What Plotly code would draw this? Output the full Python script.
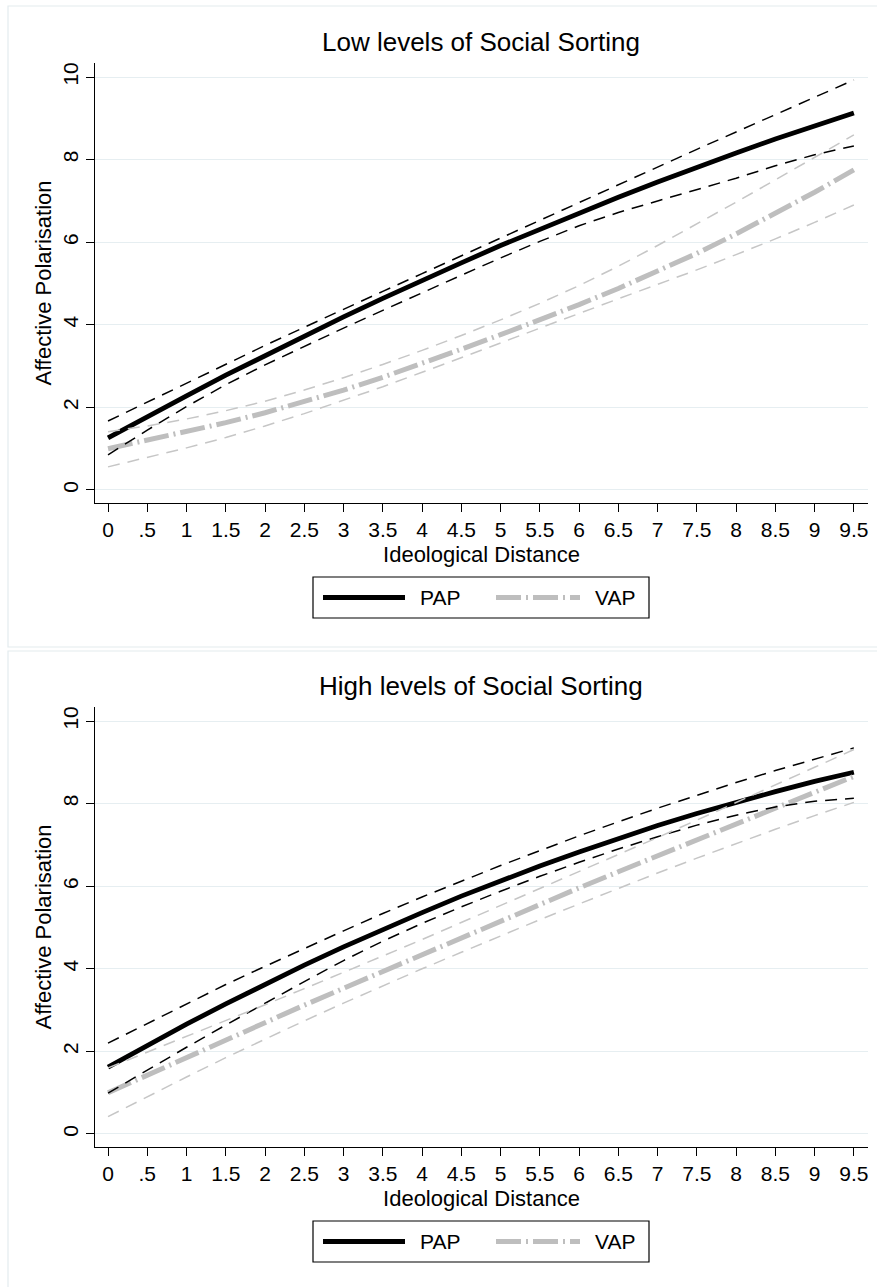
import plotly.graph_objects as go

# ---------------- data ----------------
x_vals = [0, 0.5, 1, 1.5, 2, 2.5, 3, 3.5, 4, 4.5, 5, 5.5, 6, 6.5, 7, 7.5, 8, 8.5, 9, 9.5]
x_tick_text = ["0", ".5", "1", "1.5", "2", "2.5", "3", "3.5", "4", "4.5", "5",
               "5.5", "6", "6.5", "7", "7.5", "8", "8.5", "9", "9.5"]
y_tick_vals = [0, 2, 4, 6, 8, 10]

panel_titles = ["Low levels of Social Sorting", "High levels of Social Sorting"]
series_names = ["PAP", "VAP"]
x_title = "Ideological Distance"
y_title = "Affective Polarisation"

# Low levels of social sorting
pap_low = [1.26, 1.78, 2.28, 2.78, 3.26, 3.73, 4.19, 4.64, 5.08, 5.50,
           5.92, 6.32, 6.71, 7.09, 7.46, 7.82, 8.16, 8.50, 8.82, 9.13]
pap_low_hi = [1.67, 2.13, 2.59, 3.05, 3.50, 3.94, 4.38, 4.81, 5.24, 5.67,
              6.10, 6.53, 6.97, 7.40, 7.82, 8.25, 8.67, 9.09, 9.51, 9.93]
pap_low_lo = [0.85, 1.45, 2.02, 2.55, 3.03, 3.48, 3.92, 4.35, 4.78, 5.20,
              5.62, 6.02, 6.40, 6.72, 7.00, 7.28, 7.55, 7.85, 8.12, 8.33]
vap_low = [1.00, 1.20, 1.41, 1.63, 1.87, 2.13, 2.42, 2.73, 3.06, 3.41,
           3.76, 4.12, 4.49, 4.88, 5.29, 5.73, 6.20, 6.69, 7.21, 7.75]
vap_low_hi = [1.41, 1.55, 1.72, 1.92, 2.15, 2.42, 2.72, 3.04, 3.38, 3.74,
              4.12, 4.52, 4.95, 5.42, 5.92, 6.44, 6.97, 7.51, 8.05, 8.60]
vap_low_lo = [0.56, 0.79, 1.02, 1.27, 1.55, 1.85, 2.17, 2.50, 2.85, 3.20,
              3.56, 3.92, 4.28, 4.63, 4.98, 5.33, 5.70, 6.08, 6.48, 6.90]

# High levels of social sorting
pap_high = [1.62, 2.15, 2.66, 3.15, 3.63, 4.09, 4.53, 4.96, 5.36, 5.76,
            6.13, 6.49, 6.83, 7.16, 7.47, 7.76, 8.04, 8.29, 8.54, 8.76]
pap_high_hi = [2.20, 2.68, 3.16, 3.62, 4.06, 4.50, 4.92, 5.34, 5.74, 6.12,
               6.50, 6.86, 7.22, 7.56, 7.89, 8.20, 8.51, 8.80, 9.08, 9.35]
pap_high_lo = [0.99, 1.55, 2.10, 2.64, 3.17, 3.69, 4.20, 4.67, 5.10, 5.50,
               5.88, 6.24, 6.58, 6.90, 7.20, 7.48, 7.72, 7.92, 8.06, 8.13]
vap_high = [1.00, 1.43, 1.86, 2.28, 2.70, 3.12, 3.53, 3.94, 4.35, 4.76,
            5.16, 5.56, 5.96, 6.35, 6.74, 7.13, 7.51, 7.90, 8.28, 8.66]
vap_high_hi = [1.60, 1.98, 2.36, 2.74, 3.13, 3.52, 3.91, 4.31, 4.71, 5.12,
               5.53, 5.94, 6.35, 6.77, 7.18, 7.60, 8.02, 8.45, 8.88, 9.31]
vap_high_lo = [0.42, 0.91, 1.38, 1.85, 2.30, 2.74, 3.17, 3.59, 4.00, 4.40,
               4.80, 5.19, 5.57, 5.95, 6.32, 6.68, 7.03, 7.38, 7.71, 8.03]

# ---------------- styling ----------------
W, H = 877, 1287
FONT = "Liberation Sans, Arial, Helvetica, sans-serif"
BLACK = "#000000"
GRAY_MAIN = "#BEBEBE"
GRAY_CI = "#C6C6C6"
GRID = "#E6EEF1"
FRAME = "#E3EBEE"
VAP_DASH = "25px,5px,2px,5px"
CI_DASH = "12px,8px"


def fx(p):
    return p / W


def fy(p):
    return 1 - p / H


fig = go.Figure()

panels = [
    (pap_low, pap_low_hi, pap_low_lo, vap_low, vap_low_hi, vap_low_lo),
    (pap_high, pap_high_hi, pap_high_lo, vap_high, vap_high_hi, vap_high_lo),
]

for i, (pm, ph, pl, vm, vh, vl) in enumerate(panels):
    xa = "x" if i == 0 else "x2"
    ya = "y" if i == 0 else "y2"
    fig.add_trace(go.Scatter(x=x_vals, y=pm, mode="lines", name=series_names[0],
                             line=dict(color=BLACK, width=4.8), xaxis=xa, yaxis=ya,
                             showlegend=False))
    fig.add_trace(go.Scatter(x=x_vals, y=vm, mode="lines", name=series_names[1],
                             line=dict(color=GRAY_MAIN, width=5, dash=VAP_DASH),
                             xaxis=xa, yaxis=ya, showlegend=False))
    for ys in (ph, pl):
        fig.add_trace(go.Scatter(x=x_vals, y=ys, mode="lines", name=series_names[0] + " 95% CI",
                                 line=dict(color=BLACK, width=1.5, dash=CI_DASH),
                                 xaxis=xa, yaxis=ya, showlegend=False))
    for ys in (vh, vl):
        fig.add_trace(go.Scatter(x=x_vals, y=ys, mode="lines", name=series_names[1] + " 95% CI",
                                 line=dict(color=GRAY_CI, width=1.5, dash=CI_DASH),
                                 xaxis=xa, yaxis=ya, showlegend=False))

xaxis_common = dict(
    range=[-0.166, 9.68], tickmode="array", tickvals=x_vals, ticktext=x_tick_text,
    ticks="outside", ticklen=8, tickwidth=1.2, tickcolor=BLACK,
    showline=True, linecolor=BLACK, linewidth=1.2, showgrid=False, zeroline=False,
    tickfont=dict(family=FONT, size=21, color=BLACK),
    title=dict(text=x_title, font=dict(family=FONT, size=22, color=BLACK), standoff=6),
)
yaxis_common = dict(
    range=[-0.315, 10.34], tickmode="array", tickvals=y_tick_vals, tickangle=-90,
    ticks="outside", ticklen=8, tickwidth=1.2, tickcolor=BLACK,
    showline=True, linecolor=BLACK, linewidth=1.2,
    showgrid=True, gridcolor=GRID, gridwidth=1.3, zeroline=False,
    tickfont=dict(family=FONT, size=21, color=BLACK),
    title=dict(text=y_title, font=dict(family=FONT, size=22, color=BLACK), standoff=0),
)

x_dom = [fx(95), fx(868)]
fig.update_layout(
    xaxis=dict(domain=x_dom, anchor="y", **xaxis_common),
    yaxis=dict(domain=[fy(503), fy(63)], anchor="x", **yaxis_common),
    xaxis2=dict(domain=x_dom, anchor="y2", **xaxis_common),
    yaxis2=dict(domain=[fy(1147), fy(707)], anchor="x2", **yaxis_common),
)

shapes = []
annotations = []
offsets = [0, 644]
for i, off in enumerate(offsets):
    # graph region frame
    if i == 0:
        shapes.append(dict(type="rect", xref="paper", yref="paper",
                           x0=fx(8), x1=fx(890), y0=fy(647), y1=fy(6),
                           line=dict(color=FRAME, width=1.2), fillcolor="rgba(0,0,0,0)",
                           layer="below"))
    else:
        shapes.append(dict(type="rect", xref="paper", yref="paper",
                           x0=fx(8), x1=fx(890), y0=fy(1300), y1=fy(651),
                           line=dict(color=FRAME, width=1.2), fillcolor="rgba(0,0,0,0)",
                           layer="below"))
    # panel title
    annotations.append(dict(text=panel_titles[i], xref="paper", yref="paper",
                            x=fx(481), y=fy(42 + off), xanchor="center", yanchor="middle",
                            showarrow=False, font=dict(family=FONT, size=26, color=BLACK)))
    # legend box
    shapes.append(dict(type="rect", xref="paper", yref="paper",
                       x0=fx(313), x1=fx(649), y0=fy(618 + off), y1=fy(577 + off),
                       line=dict(color=BLACK, width=1.2), fillcolor="white"))
    ly = fy(597.5 + off)
    shapes.append(dict(type="line", xref="paper", yref="paper",
                       x0=fx(323), x1=fx(405), y0=ly, y1=ly,
                       line=dict(color=BLACK, width=5)))
    shapes.append(dict(type="line", xref="paper", yref="paper",
                       x0=fx(496), x1=fx(580), y0=ly, y1=ly,
                       line=dict(color=GRAY_MAIN, width=5, dash=VAP_DASH)))
    annotations.append(dict(text=series_names[0], xref="paper", yref="paper",
                            x=fx(418), y=ly, xanchor="left", yanchor="middle",
                            showarrow=False, font=dict(family=FONT, size=21, color=BLACK)))
    annotations.append(dict(text=series_names[1], xref="paper", yref="paper",
                            x=fx(593), y=ly, xanchor="left", yanchor="middle",
                            showarrow=False, font=dict(family=FONT, size=21, color=BLACK)))

fig.update_layout(
    width=W, height=H,
    margin=dict(l=0, r=0, t=0, b=0),
    paper_bgcolor="white", plot_bgcolor="white",
    showlegend=False,
    shapes=shapes, annotations=annotations,
    font=dict(family=FONT, color=BLACK),
)

fig.write_html("out.html")
